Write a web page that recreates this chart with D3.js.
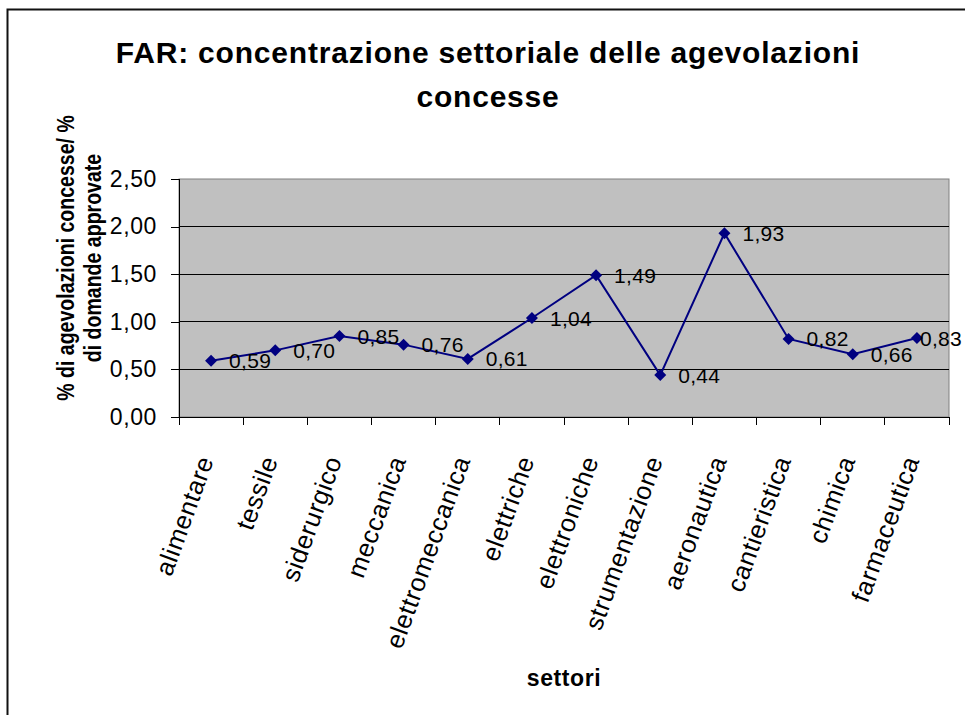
<!DOCTYPE html>
<html>
<head>
    <meta charset="utf-8">
    <title>FAR: concentrazione settoriale</title>
    <style>
        body { margin: 0; background: #fff; }
        svg text { font-family: Arial, "Liberation Sans", sans-serif; fill: #000; }
        .axis path, .axis line { fill: none; stroke: #000; shape-rendering: crispEdges; }
        .grid line { stroke: #000; shape-rendering: crispEdges; }
    </style>
    <script src="https://d3js.org/d3.v7.min.js"></script>
</head>
<body>
<script>
    // settori e rapporto % agevolazioni / % domande
    var settori = ["alimentare", "tessile", "siderurgico", "meccanica", "elettromeccanica", "elettriche",
                   "elettroniche", "strumentazione", "aeronautica", "cantieristica", "chimica", "farmaceutica"];
    var valori = [0.59, 0.70, 0.85, 0.76, 0.61, 1.04, 1.49, 0.44, 1.93, 0.82, 0.66, 0.83];
    var yTicks = [0, 0.5, 1, 1.5, 2, 2.5];
    var titolo = ["FAR: concentrazione settoriale delle agevolazioni", "concesse"];
    var titoloY = ["% di agevolazioni concesse/ %", "di  domande approvate"];
    var titoloX = "settori";

    var W = 965, H = 715;
    var plot = { left: 179, right: 949, top: 179, bottom: 417 };
    var fmt = function(v) { return d3.format(".2f")(v).replace(".", ","); };

    var svg = d3.select("body").append("svg")
        .attr("width", W)
        .attr("height", H);

    // cornice esterna
    svg.append("rect")
        .attr("x", 7.5).attr("y", 9.5)
        .attr("width", 1000).attr("height", 1000)
        .attr("fill", "none")
        .attr("stroke", "#111")
        .attr("stroke-width", 2);

    var x = d3.scaleBand().domain(settori).range([plot.left, plot.right]).padding(0);
    var y = d3.scaleLinear().domain([0, 2.5]).range([plot.bottom, plot.top]);
    var cx = function(d) { return x(d) + x.bandwidth() / 2; };

    // area del grafico
    svg.append("rect")
        .attr("x", plot.left).attr("y", plot.top)
        .attr("width", plot.right - plot.left)
        .attr("height", plot.bottom - plot.top)
        .attr("fill", "#c0c0c0")
        .attr("stroke", "#808080")
        .attr("stroke-width", 1);

    svg.append("g")
        .attr("class", "grid")
        .selectAll("line")
        .data(yTicks.filter(function(d) { return d > 0 && d < 2.5; }))
        .enter().append("line")
        .attr("x1", plot.left).attr("x2", plot.right)
        .attr("y1", function(d) { return y(d); })
        .attr("y2", function(d) { return y(d); });

    // assi
    var yAxis = svg.append("g")
        .attr("class", "axis")
        .attr("transform", "translate(" + plot.left + ",0)")
        .call(d3.axisLeft(y).tickValues(yTicks).tickFormat(fmt).tickSize(8).tickPadding(14));
    yAxis.selectAll("text")
        .attr("font-family", null)
        .style("font-size", "23px")
        .style("letter-spacing", "0.6px");

    var xAxis = svg.append("g")
        .attr("class", "axis")
        .attr("transform", "translate(0," + plot.bottom + ")")
        .call(d3.axisBottom(x).tickSize(0).tickFormat(""));
    // tick ai bordi delle categorie
    xAxis.selectAll(".tick").remove();
    xAxis.selectAll("line.edge")
        .data(d3.range(settori.length + 1))
        .enter().append("line")
        .attr("class", "edge")
        .attr("x1", function(i) { return plot.left + i * x.step(); })
        .attr("x2", function(i) { return plot.left + i * x.step(); })
        .attr("y1", 0).attr("y2", 8);

    svg.append("g")
        .selectAll("text")
        .data(settori)
        .enter().append("text")
        .attr("transform", function(d) {
            return "translate(" + (cx(d) + 3) + "," + 460 + ") rotate(-70)";
        })
        .attr("text-anchor", "end")
        .style("font-size", "25.5px")
        .style("letter-spacing", "0.6px")
        .text(function(d) { return d; });

    // linea e marcatori
    var line = d3.line()
        .x(function(d, i) { return cx(settori[i]); })
        .y(function(d) { return y(d); });

    svg.append("path")
        .datum(valori)
        .attr("d", line)
        .attr("fill", "none")
        .attr("stroke", "#000080")
        .attr("stroke-width", 2);

    svg.append("g")
        .selectAll("path")
        .data(valori)
        .enter().append("path")
        .attr("d", d3.symbol().type(d3.symbolSquare).size(72))
        .attr("transform", function(d, i) {
            return "translate(" + cx(settori[i]) + "," + y(d) + ") rotate(45)";
        })
        .attr("fill", "#000080");

    svg.append("g")
        .selectAll("text")
        .data(valori)
        .enter().append("text")
        .attr("x", function(d, i) { return cx(settori[i]) + 18; })
        .attr("y", function(d) { return y(d); })
        .attr("dy", "0.36em")
        .style("font-size", "21px")
        .style("letter-spacing", "0.3px")
        .text(fmt)
        .each(function() {
            // le etichette non escono dal riquadro
            var len = this.getComputedTextLength();
            var x0 = +this.getAttribute("x");
            if (x0 + len > W - 3) this.setAttribute("x", W - 3 - len);
        });

    // titoli
    svg.append("text")
        .attr("text-anchor", "middle")
        .style("font-size", "30px")
        .style("font-weight", "bold")
        .style("letter-spacing", "0.8px")
        .selectAll("tspan")
        .data(titolo)
        .enter().append("tspan")
        .attr("x", 488)
        .attr("y", function(d, i) { return 63 + i * 44; })
        .text(function(d) { return d; });

    svg.append("text")
        .attr("transform", "translate(0,258) rotate(-90) scale(0.85,1)")
        .attr("text-anchor", "middle")
        .style("font-size", "23px")
        .style("font-weight", "bold")
        .selectAll("tspan")
        .data(titoloY)
        .enter().append("tspan")
        .attr("x", 0)
        .attr("y", function(d, i) { return 74 + i * 27; })
        .text(function(d) { return d; });

    svg.append("text")
        .attr("x", (plot.left + plot.right) / 2)
        .attr("y", 686)
        .attr("text-anchor", "middle")
        .style("font-size", "23px")
        .style("font-weight", "bold")
        .style("letter-spacing", "0.6px")
        .text(titoloX);
</script>
</body>
</html>
